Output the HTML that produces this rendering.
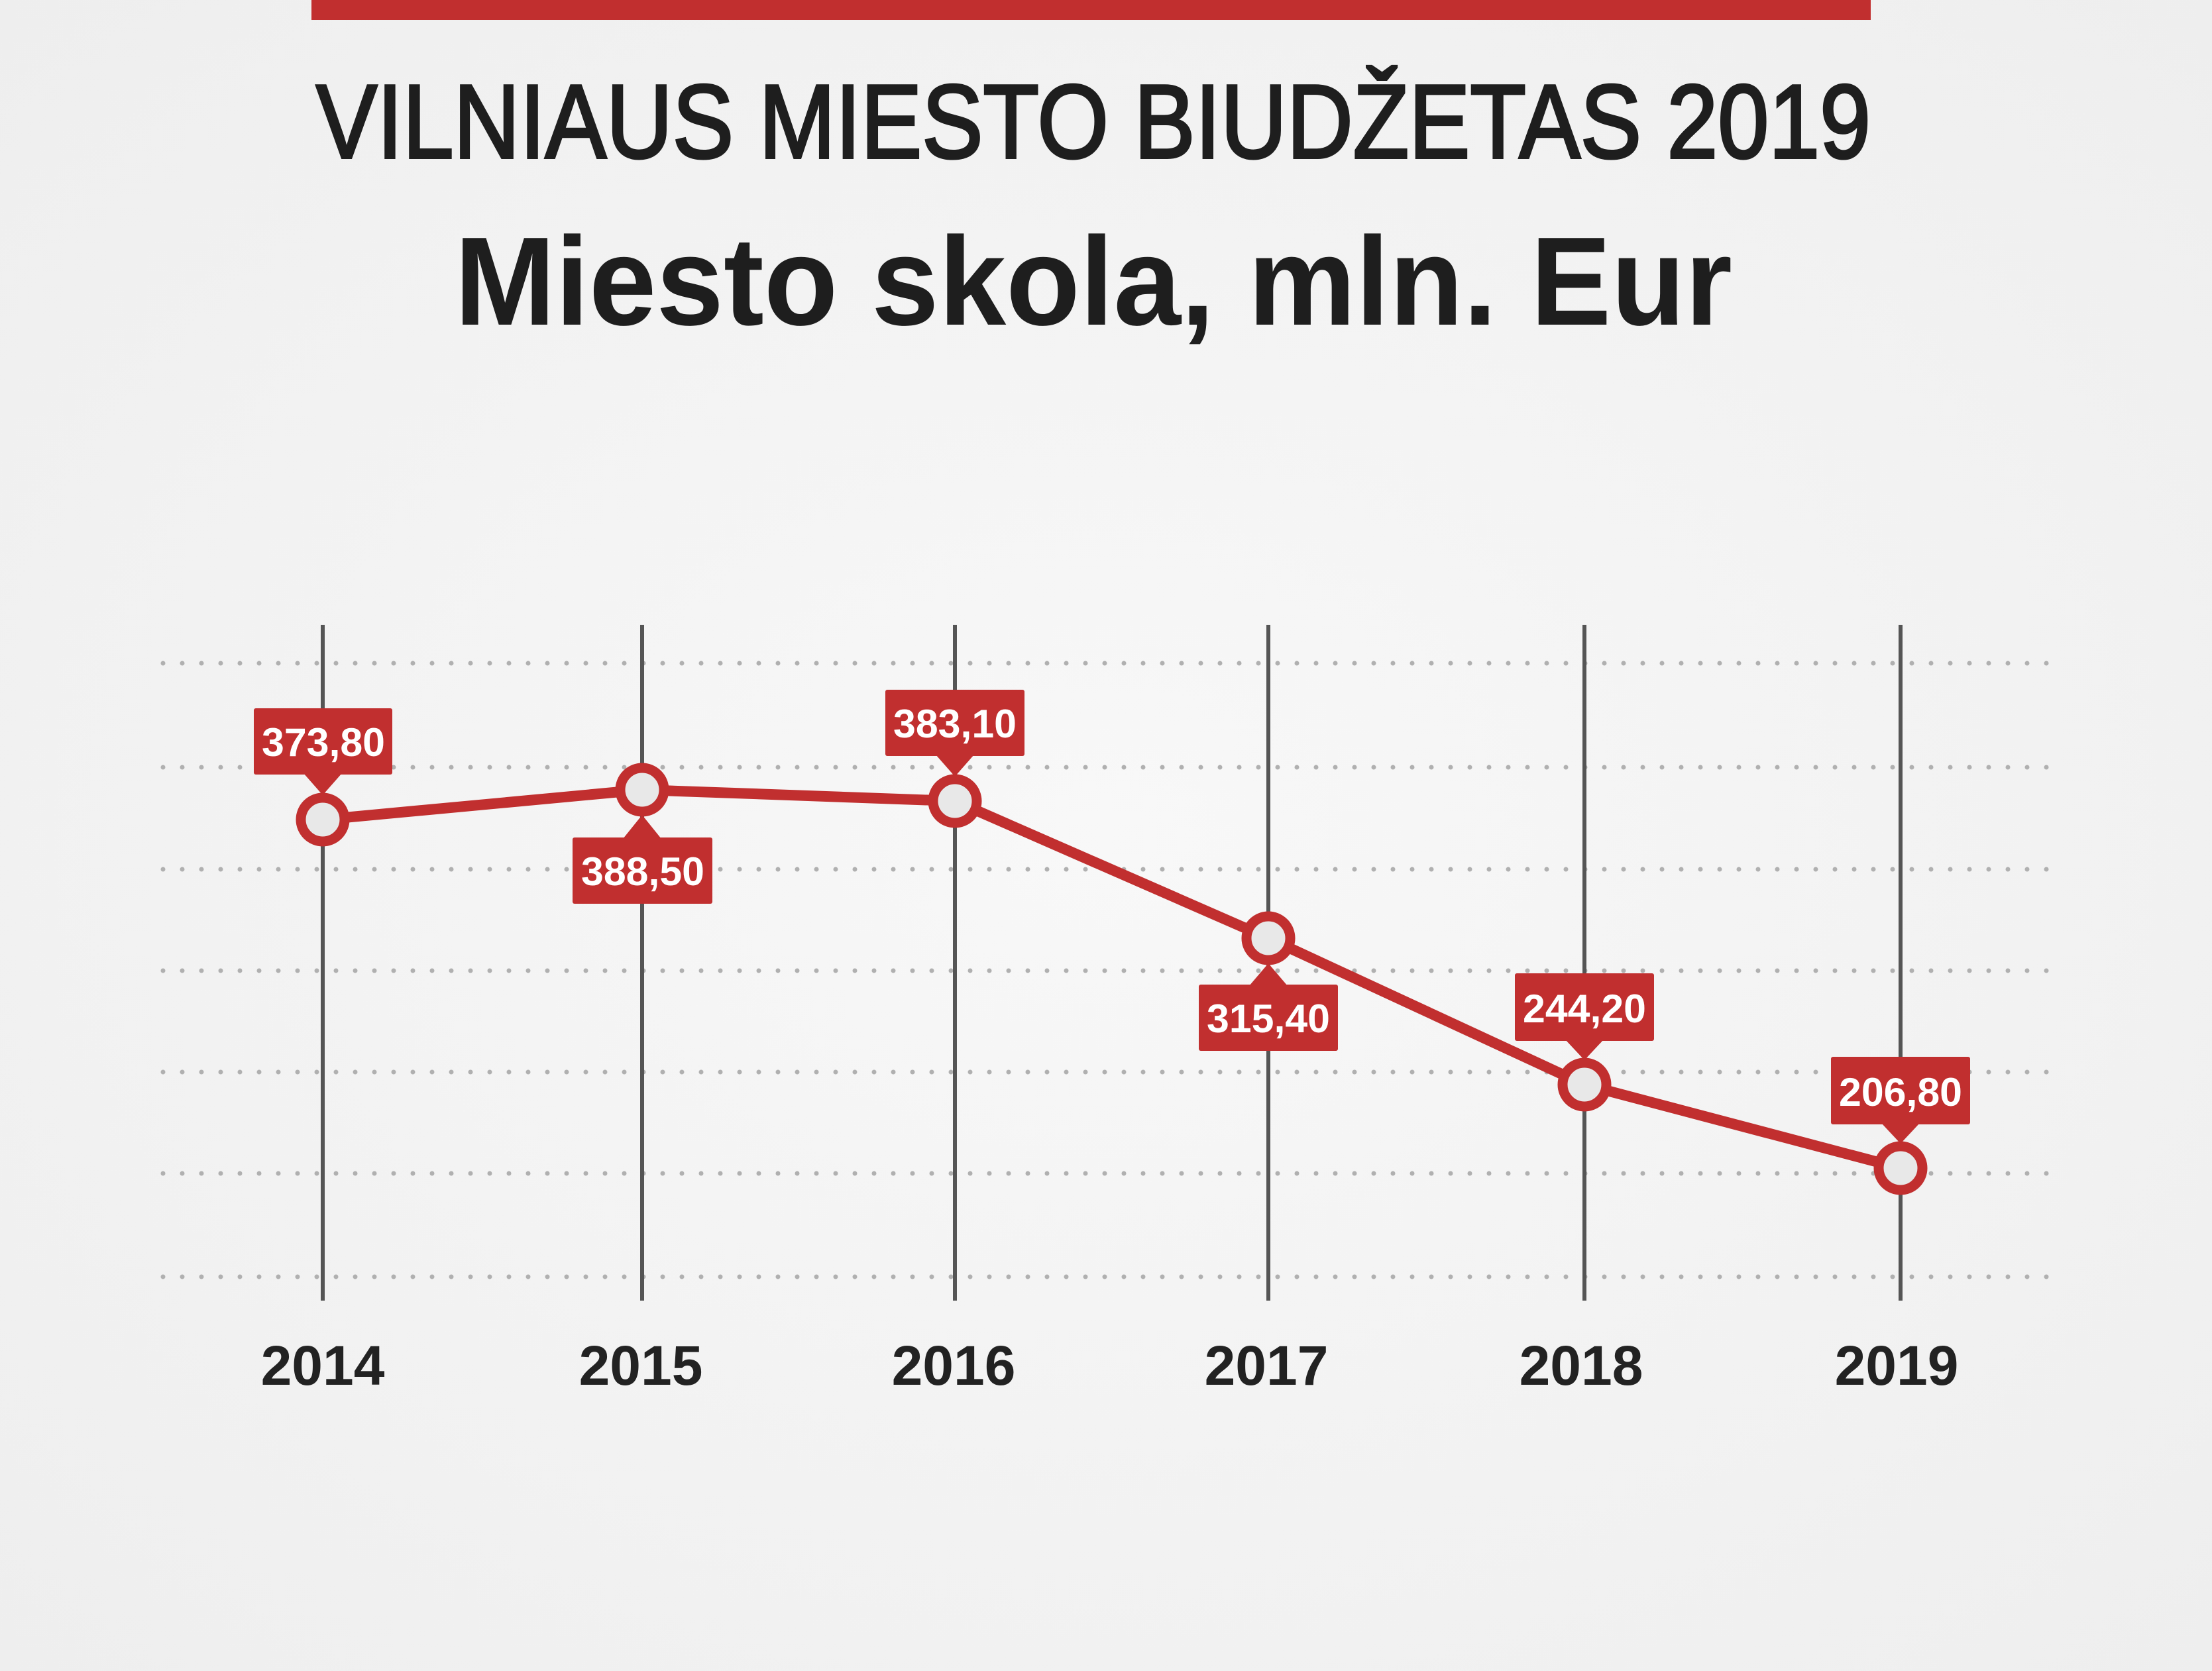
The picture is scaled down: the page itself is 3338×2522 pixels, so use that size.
<!DOCTYPE html>
<html><head><meta charset="utf-8"><style>
html,body{margin:0;padding:0;}
body{width:3338px;height:2517px;overflow:hidden;background:radial-gradient(ellipse at 50% 50%,#f8f8f8 0%,#f3f3f3 50%,#eeeeee 100%);}
</style></head><body>
<svg width="3338" height="2517" xmlns="http://www.w3.org/2000/svg" font-family="Liberation Sans, sans-serif">
<rect x="470" y="0" width="2353" height="30" fill="#c12f2f"/>
<text x="477" y="238" font-size="158" fill="#1e1e1e" stroke="#1e1e1e" stroke-width="4" textLength="2346" lengthAdjust="spacingAndGlyphs">VILNIAUS MIESTO BIUDŽETAS 2019</text>
<text x="686" y="490" font-size="190" font-weight="bold" fill="#1e1e1e" textLength="1928" lengthAdjust="spacingAndGlyphs">Miesto skola, mln. Eur</text>
<g stroke="#b0b0b0" stroke-width="7" stroke-linecap="round" stroke-dasharray="0 29">
<line x1="246" y1="1001" x2="3100" y2="1001"/>
<line x1="246" y1="1158" x2="3100" y2="1158"/>
<line x1="246" y1="1312" x2="3100" y2="1312"/>
<line x1="246" y1="1465" x2="3100" y2="1465"/>
<line x1="246" y1="1618" x2="3100" y2="1618"/>
<line x1="246" y1="1771" x2="3100" y2="1771"/>
<line x1="246" y1="1927" x2="3100" y2="1927"/>
</g>
<g stroke="#555" stroke-width="6">
<line x1="487" y1="943" x2="487" y2="1963"/>
<line x1="969" y1="943" x2="969" y2="1963"/>
<line x1="1441" y1="943" x2="1441" y2="1963"/>
<line x1="1914" y1="943" x2="1914" y2="1963"/>
<line x1="2391" y1="943" x2="2391" y2="1963"/>
<line x1="2868" y1="943" x2="2868" y2="1963"/>
</g>
<polyline points="487,1237 969,1192 1441,1209 1914,1416 2391,1637 2868,1763" fill="none" stroke="#c12f2f" stroke-width="16" stroke-linejoin="round"/>
<g fill="#c12f2f">
<rect x="383" y="1069" width="209" height="100" rx="3"/><polygon points="458,1167 516,1167 487,1200"/>
<rect x="864" y="1264" width="211" height="100" rx="3"/><polygon points="940,1266 998,1266 969,1230"/>
<rect x="1336" y="1041" width="210" height="100" rx="3"/><polygon points="1412,1139 1470,1139 1441,1172"/>
<rect x="1809" y="1486" width="210" height="100" rx="3"/><polygon points="1885,1488 1943,1488 1914,1454"/>
<rect x="2286" y="1469" width="210" height="102" rx="3"/><polygon points="2362,1569 2420,1569 2391,1600"/>
<rect x="2763" y="1595" width="210" height="102" rx="3"/><polygon points="2839,1695 2897,1695 2868,1726"/>
</g>
<g fill="#e8e8e8" stroke="#c12f2f" stroke-width="15">
<circle cx="487" cy="1237" r="33"/>
<circle cx="969" cy="1192" r="33"/>
<circle cx="1441" cy="1209" r="33"/>
<circle cx="1914" cy="1416" r="33"/>
<circle cx="2391" cy="1637" r="33"/>
<circle cx="2868" cy="1763" r="33"/>
</g>
<g fill="#fff" font-size="60" font-weight="bold" text-anchor="middle">
<text x="488" y="1141" textLength="186" lengthAdjust="spacingAndGlyphs">373,80</text>
<text x="970" y="1336" textLength="186" lengthAdjust="spacingAndGlyphs">388,50</text>
<text x="1441" y="1113" textLength="186" lengthAdjust="spacingAndGlyphs">383,10</text>
<text x="1914" y="1558" textLength="186" lengthAdjust="spacingAndGlyphs">315,40</text>
<text x="2391" y="1543" textLength="186" lengthAdjust="spacingAndGlyphs">244,20</text>
<text x="2868" y="1669" textLength="186" lengthAdjust="spacingAndGlyphs">206,80</text>
</g>
<g fill="#222" font-size="84" font-weight="bold" text-anchor="middle">
<text x="487" y="2090">2014</text>
<text x="967" y="2090">2015</text>
<text x="1439" y="2090">2016</text>
<text x="1911" y="2090">2017</text>
<text x="2386" y="2090">2018</text>
<text x="2862" y="2090">2019</text>
</g>
</svg>
</body></html>
